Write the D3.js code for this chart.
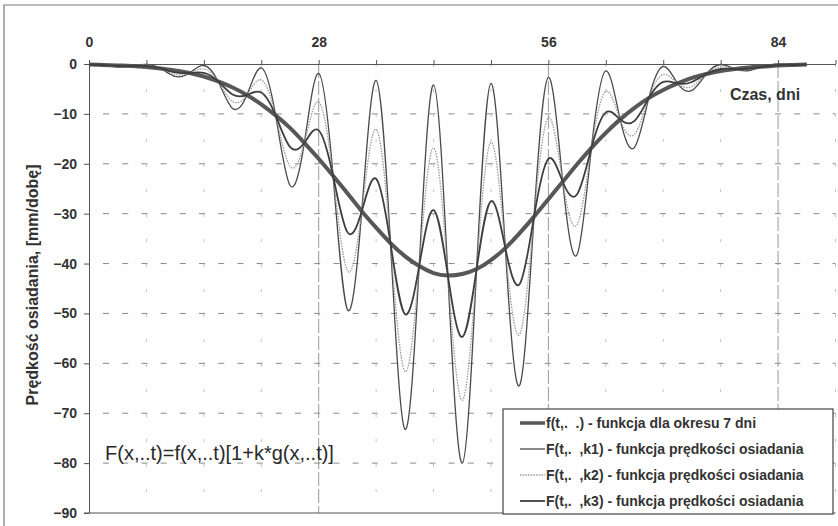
<!DOCTYPE html>
<html>
<head>
<meta charset="utf-8">
<script src="https://cdn.jsdelivr.net/npm/d3@7"></script>
<style>
  body { margin: 0; background: #fff; }
  svg { display: block; font-family: "Liberation Sans", Arial, sans-serif; }
  .axis text { font-size: 14px; font-weight: bold; fill: #333; }
  .axis path, .axis line { stroke: #555; }
  .lab { font-weight: bold; fill: #333; white-space: pre; }
</style>
</head>
<body>
<div id="chart"></div>
<script>
// time in days (quarter of the 7 day period)
var days = [0, 1.75, 3.5, 5.25, 7, 8.75, 10.5, 12.25, 14, 15.75, 17.5, 19.25, 21, 22.75, 24.5, 26.25,
  28, 29.75, 31.5, 33.25, 35, 36.75, 38.5, 40.25, 42, 43.75, 45.5, 47.25, 49, 50.75, 52.5, 54.25,
  56, 57.75, 59.5, 61.25, 63, 64.75, 66.5, 68.25, 70, 71.75, 73.5, 75.25, 77, 78.75, 80.5, 82.25,
  84, 85.75, 87.5];

// f(t,..) - base function
var fBase = [-0.1, -0.2, -0.3, -0.4, -0.6, -0.9, -1.3, -1.8, -2.5, -3.5, -4.7, -6.2, -8.1, -10.3, -12.8, -15.8,
  -19.0, -22.4, -25.9, -29.5, -32.8, -35.9, -38.5, -40.5, -41.9, -42.4, -42.1, -41.1, -39.3, -36.9, -33.9, -30.6,
  -27.1, -23.6, -20.1, -16.8, -13.8, -11.1, -8.8, -6.8, -5.2, -3.9, -2.8, -2.0, -1.4, -1.0, -0.7, -0.5,
  -0.3, -0.2, -0.1];

// F(t,..,k1)
var fK1 = [0.0, -0.2, -0.6, -0.4, -0.1, -0.9, -2.5, -1.8, -0.3, -3.5, -8.9, -6.2, -0.8, -10.3, -24.3, -15.8,
  -1.9, -22.4, -49.2, -29.5, -3.3, -35.9, -73.2, -40.5, -4.2, -42.4, -80.0, -41.1, -3.9, -36.9, -64.4, -30.6,
  -2.7, -23.6, -38.2, -16.8, -1.4, -11.1, -16.7, -6.8, -0.5, -3.9, -5.3, -2.0, -0.1, -1.0, -1.3, -0.5,
  0.0, -0.2, -0.2];

// F(t,..,k2)
var fK2 = [0.0, -0.2, -0.5, -0.4, -0.2, -0.9, -2.1, -1.8, -1.0, -3.5, -7.5, -6.2, -3.2, -10.3, -20.5, -15.8,
  -7.6, -22.4, -41.4, -29.5, -13.1, -35.9, -61.6, -40.5, -16.8, -42.4, -67.4, -41.1, -15.7, -36.9, -54.2, -30.6,
  -10.8, -23.6, -32.2, -16.8, -5.5, -11.1, -14.1, -6.8, -2.1, -3.9, -4.5, -2.0, -0.6, -1.0, -1.1, -0.5,
  -0.1, -0.2, -0.2];

// F(t,..,k3)
var fK3 = [-0.1, -0.2, -0.4, -0.4, -0.4, -0.9, -1.7, -1.8, -1.8, -3.5, -6.1, -6.2, -5.7, -10.3, -16.6, -15.8,
  -13.3, -22.4, -33.7, -29.5, -23.0, -35.9, -50.1, -40.5, -29.3, -42.4, -54.7, -41.1, -27.5, -36.9, -44.1, -30.6,
  -19.0, -23.6, -26.1, -16.8, -9.7, -11.1, -11.4, -6.8, -3.6, -3.9, -3.6, -2.0, -1.0, -1.0, -0.9, -0.5,
  -0.2, -0.2, -0.1];

var xTicks = [0, 7, 14, 21, 28, 35, 42, 49, 56, 63, 70, 77, 84, 91];
var xLabels = [0, 28, 56, 84];
var yTicks = [-90, -80, -70, -60, -50, -40, -30, -20, -10, 0];

var legendLabels = [
  "f(t,.  .) - funkcja dla okresu 7 dni",
  "F(t,.  ,k1) - funkcja prędkości osiadania",
  "F(t,.  ,k2) - funkcja prędkości osiadania",
  "F(t,.  ,k3) - funkcja prędkości osiadania"
];

var W = 838, H = 526;
var plot = {left: 89, right: 835.5, top: 64, bottom: 513};

var styles = [
  {stroke: "#575757", width: 4, dash: null},
  {stroke: "#4a4a4a", width: 1.3, dash: null},
  {stroke: "#9a9a9a", width: 1.3, dash: "1.5,1.2"},
  {stroke: "#3e3e3e", width: 1.8, dash: null}
];
var series = [fBase, fK1, fK2, fK3];

var svg = d3.select("#chart").append("svg")
  .attr("width", W)
  .attr("height", H);

svg.append("rect").attr("width", W).attr("height", H).attr("fill", "#fefefe");

// outer frame
svg.append("path")
  .attr("d", "M4," + H + "V5H" + W)
  .attr("fill", "none")
  .attr("stroke", "#7a7a7a")
  .attr("stroke-width", 1.2);

var x = d3.scaleLinear().domain([0, 91]).range([plot.left, plot.right]);
var y = d3.scaleLinear().domain([-90, 0]).range([plot.bottom, plot.top]);

// horizontal grid
svg.append("g").selectAll("line")
  .data(yTicks.filter(function(d) { return d > -90 && d < 0; }))
  .enter().append("line")
  .attr("x1", plot.left + 14).attr("x2", plot.right)
  .attr("y1", function(d) { return y(d); })
  .attr("y2", function(d) { return y(d); })
  .attr("stroke", "#8a8a8a")
  .attr("stroke-width", 1)
  .attr("stroke-dasharray", "6,13.2");

// vertical grid
svg.append("g").selectAll("line")
  .data(xTicks.filter(function(d) { return d > 0; }))
  .enter().append("line")
  .attr("x1", function(d) { return x(d); })
  .attr("x2", function(d) { return x(d); })
  .attr("y1", plot.top).attr("y2", plot.bottom)
  .attr("stroke", function(d) { return d % 28 == 0 ? "#9a9a9a" : "#c4c4c4"; })
  .attr("stroke-width", 1)
  .attr("stroke-dasharray", function(d) { return d % 28 == 0 ? "14,3" : "3,22"; });

// bottom border of plot area
svg.append("line")
  .attr("x1", plot.left - 5).attr("x2", plot.right)
  .attr("y1", plot.bottom).attr("y2", plot.bottom)
  .attr("stroke", "#555");

// x axis on top
var xAxis = d3.axisTop(x)
  .tickValues(xTicks)
  .tickSize(4)
  .tickSizeOuter(0)
  .tickPadding(13)
  .tickFormat(function(d) { return xLabels.indexOf(d) >= 0 ? d : ""; });

svg.append("g")
  .attr("class", "x axis")
  .attr("transform", "translate(0," + plot.top + ")")
  .call(xAxis);

// y axis
var yAxis = d3.axisLeft(y)
  .tickValues(yTicks)
  .tickSize(5)
  .tickSizeOuter(0)
  .tickPadding(7);

svg.append("g")
  .attr("class", "y axis")
  .attr("transform", "translate(" + plot.left + ",0)")
  .call(yAxis);

// curves
var line = d3.line()
  .x(function(d, i) { return x(days[i]); })
  .y(function(d) { return y(d); })
  .curve(d3.curveNatural);

svg.append("g").selectAll("path")
  .data(series)
  .enter().append("path")
  .attr("d", line)
  .attr("fill", "none")
  .attr("stroke", function(d, i) { return styles[i].stroke; })
  .attr("stroke-width", function(d, i) { return styles[i].width; })
  .attr("stroke-dasharray", function(d, i) { return styles[i].dash; })
  .attr("stroke-linejoin", "round");

// axis titles
svg.append("text")
  .attr("class", "lab")
  .attr("transform", "translate(38,285) rotate(-90)")
  .attr("text-anchor", "middle")
  .style("font-size", "16px")
  .text("Prędkość osiadania, [mm/dobę]");

svg.append("text")
  .attr("class", "lab")
  .attr("x", 765).attr("y", 100)
  .attr("text-anchor", "middle")
  .style("font-size", "16px")
  .text("Czas, dni");

svg.append("text")
  .attr("x", 105).attr("y", 460)
  .style("font-size", "20px")
  .style("fill", "#2a2a2a")
  .text("F(x,..t)=f(x,..t)[1+k*g(x,..t)]");

// legend
var legend = svg.append("g").attr("transform", "translate(503,409)");
legend.append("rect")
  .attr("width", 330).attr("height", 105)
  .attr("fill", "#fff")
  .attr("stroke", "#444")
  .attr("stroke-width", 1.2);

var item = legend.selectAll(".item")
  .data(legendLabels)
  .enter().append("g")
  .attr("class", "item")
  .attr("transform", function(d, i) { return "translate(0," + (14 + 26 * i) + ")"; });

item.append("line")
  .attr("x1", 17).attr("x2", 42)
  .attr("stroke", function(d, i) { return styles[i].stroke; })
  .attr("stroke-width", function(d, i) { return i == 0 ? 3.5 : styles[i].width; })
  .attr("stroke-dasharray", function(d, i) { return styles[i].dash; });

item.append("text")
  .attr("class", "lab")
  .attr("x", 43).attr("y", 5)
  .style("font-size", "14px")
  .text(function(d) { return d; });
</script>
</body>
</html>
